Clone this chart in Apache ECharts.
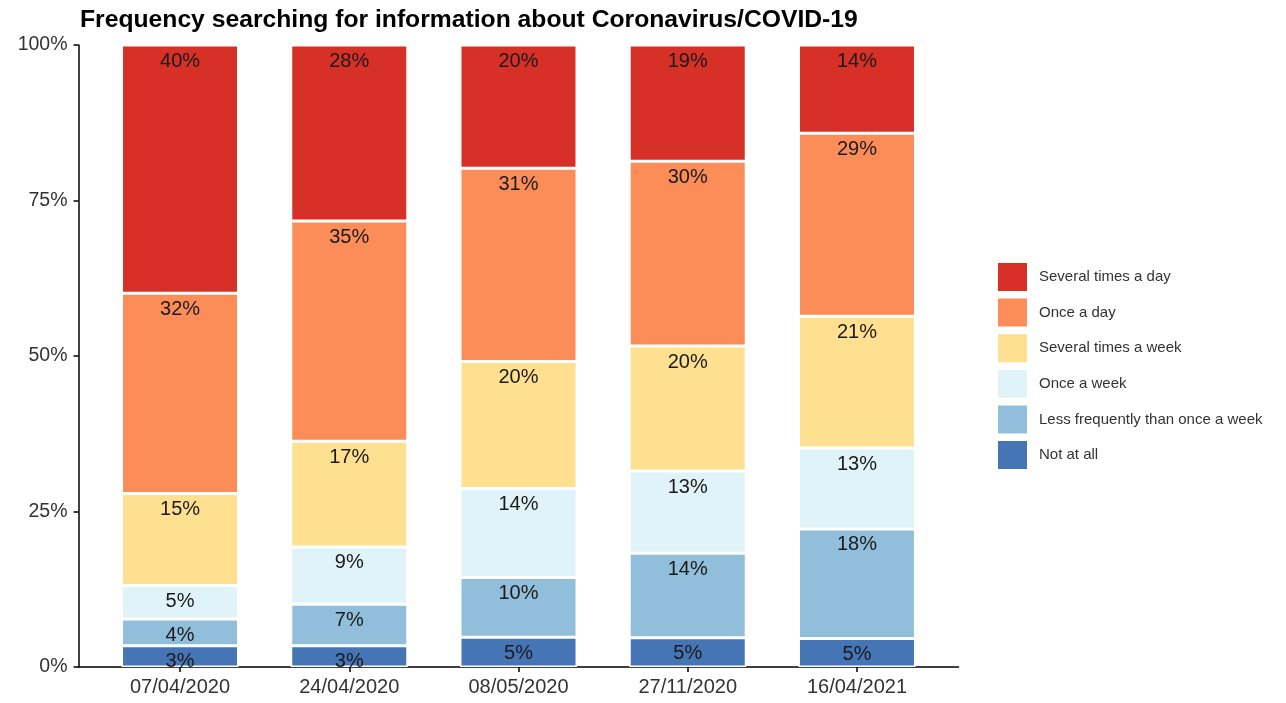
<!DOCTYPE html>
<html>
<head>
<meta charset="utf-8">
<script src="https://cdn.jsdelivr.net/npm/echarts@6/dist/echarts.min.js"></script>
<style>
html,body{margin:0;padding:0;background:#fff;}
#chart{width:1286px;height:703px;}
</style>
</head>
<body>
<div id="chart"></div>
<script>
const titleText = 'Frequency searching for information about Coronavirus/COVID-19';
const categories = ['07/04/2020', '24/04/2020', '08/05/2020', '27/11/2020', '16/04/2021'];
const yTicks = [0, 25, 50, 75, 100];

const seriesNames = ['Not at all', 'Less frequently than once a week', 'Once a week',
  'Several times a week', 'Once a day', 'Several times a day'];
const seriesColors = ['#4575b4', '#91bfdb', '#e0f3f8', '#fee090', '#fc8d59', '#d73027'];

const notAtAll          = [3.4, 3.4, 4.8, 4.7, 4.6];
const lessThanWeekly    = [4.3, 6.7, 9.6, 13.6, 17.6];
const onceAWeek         = [5.4, 9.2, 14.3, 13.2, 13.0];
const severalTimesWeek  = [14.8, 17.0, 20.4, 20.1, 21.2];
const onceADay          = [32.2, 35.4, 31.1, 29.7, 29.4];
const severalTimesDay   = [39.9, 28.3, 19.8, 18.7, 14.2];

const seriesValues = [notAtAll, lessThanWeekly, onceAWeek, severalTimesWeek, onceADay, severalTimesDay];

const FONT = 'Liberation Sans, Arial, sans-serif';
const chart = echarts.init(document.getElementById('chart'), null, {renderer: 'canvas'});

const series = seriesNames.map((name, s) => ({
  name: name,
  type: 'bar',
  stack: 'total',
  barWidth: 117,
  xAxisIndex: 0,
  yAxisIndex: 0,
  data: seriesValues[s],
  itemStyle: {color: seriesColors[s], borderColor: '#ffffff', borderWidth: 1.5},
  label: {
    show: true,
    position: 'insideTop',
    distance: 6,
    fontSize: 20,
    fontFamily: FONT,
    color: '#1a1a1a',
    formatter: p => Math.round(p.value) + '%'
  },
  emphasis: {disabled: true}
}));

chart.setOption({
  animation: false,
  backgroundColor: '#ffffff',
  title: {
    text: titleText,
    left: 75,
    top: 3,
    textStyle: {fontSize: 24.7, fontWeight: 'bold', color: '#000', fontFamily: FONT}
  },
  legend: {
    orient: 'vertical',
    left: 991,
    top: 256,
    itemWidth: 31,
    itemHeight: 30,
    itemGap: 3.6,
    icon: 'rect',
    data: seriesNames.slice().reverse(),
    textStyle: {fontSize: 15, color: '#333', fontFamily: FONT, padding: [0, 0, 0, 6]}
  },
  grid: [
    {left: 95.4, right: 344.4, top: 45, bottom: 36, containLabel: false},
    {left: 78.5, right: 327.5, top: 45, bottom: 36, containLabel: false}
  ],
  xAxis: [
    {
      type: 'category',
      gridIndex: 0,
      data: categories,
      axisLine: {show: false},
      axisTick: {show: true, length: 5, alignWithLabel: true, lineStyle: {color: '#000', width: 1.5}},
      axisLabel: {margin: 10, fontSize: 20, color: '#333', fontFamily: FONT}
    },
    {
      type: 'value',
      gridIndex: 1,
      min: 0,
      max: 1,
      splitLine: {show: false},
      axisTick: {show: false},
      axisLabel: {show: false},
      axisLine: {show: true, lineStyle: {color: '#000', width: 1.5}}
    }
  ],
  yAxis: [
    {
      type: 'value',
      gridIndex: 0,
      min: 0,
      max: 100,
      interval: 25,
      offset: 16.9,
      splitLine: {show: false},
      axisLine: {show: true, lineStyle: {color: '#000', width: 1.5}},
      axisTick: {show: true, length: 5, lineStyle: {color: '#000', width: 1.5}},
      axisLabel: {
        margin: 11,
        fontSize: 19.5,
        color: '#333',
        fontFamily: FONT,
        formatter: v => yTicks.indexOf(v) >= 0 ? v + '%' : ''
      }
    },
    {
      type: 'value',
      gridIndex: 1,
      min: 0,
      max: 1,
      show: false
    }
  ],
  series: series
});
</script>
</body>
</html>
